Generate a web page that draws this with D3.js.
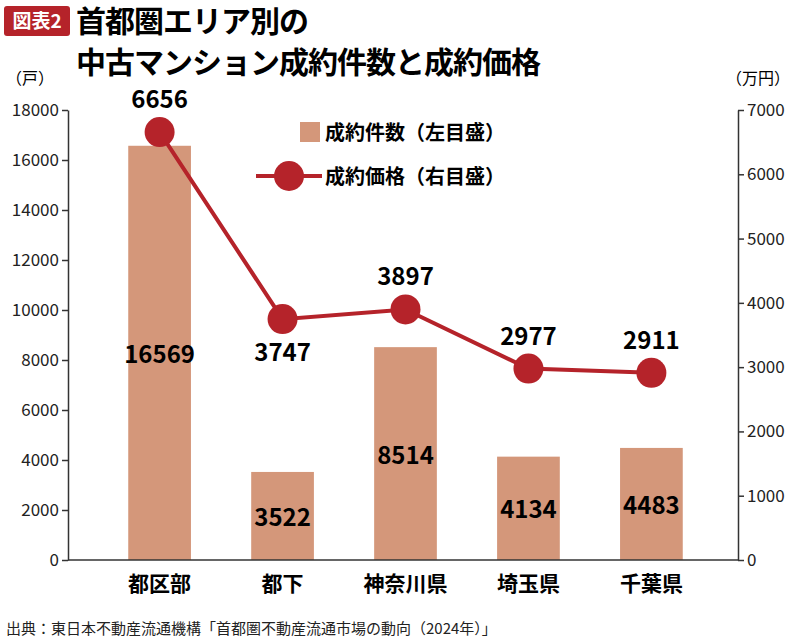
<!DOCTYPE html>
<html><head><meta charset="utf-8">
<script src="https://cdn.jsdelivr.net/npm/d3@7"></script>
<style>body{margin:0;background:#fff;font-family:"Noto Sans CJK JP",sans-serif}</style>
</head><body>
<svg id="chart" width="800" height="642"></svg>
<script>
const categories = ['都区部', '都下', '神奈川県', '埼玉県', '千葉県'];
const counts = [16569, 3522, 8514, 4134, 4483];
const prices = [6656, 3747, 3897, 2977, 2911];
const leftTicks = [0, 2000, 4000, 6000, 8000, 10000, 12000, 14000, 16000, 18000];
const rightTicks = [0, 1000, 2000, 3000, 4000, 5000, 6000, 7000];

const svg = d3.select('#chart');
const margin = {left: 68, right: 62, top: 110, bottom: 82};
const W = 800, H = 642;
const font = '"Noto Sans CJK JP", sans-serif';

const x = d3.scaleBand().domain(categories).range([68, 743]).padding(0.49);
const yL = d3.scaleLinear().domain([0, 18000]).range([H - margin.bottom, margin.top]);
const yR = d3.scaleLinear().domain([0, 7000]).range([H - margin.bottom, margin.top]);

// title
svg.append('rect').attr('x', 4).attr('y', 6).attr('width', 66).attr('height', 30).attr('rx', 3).attr('fill', '#b5232a');
svg.append('text').attr('x', 37).attr('y', 28).attr('text-anchor', 'middle').attr('fill', '#fff')
    .attr('font-size', 19).attr('font-weight', 700).attr('font-family', font).text('図表2');
svg.append('text').attr('x', 76).attr('y', 32).attr('font-size', 30).attr('font-weight', 700).attr('font-family', font)
    .attr('letter-spacing', -1).text('首都圏エリア別の');
svg.append('text').attr('x', 76).attr('y', 73).attr('font-size', 30).attr('font-weight', 700).attr('font-family', font)
    .attr('letter-spacing', -1).text('中古マンション成約件数と成約価格');

// bars
svg.append('g').selectAll('rect').data(counts).enter().append('rect')
    .attr('x', (d, i) => x(categories[i])).attr('width', x.bandwidth())
    .attr('y', d => yL(d)).attr('height', d => yL(0) - yL(d)).attr('fill', '#d4977a');
svg.append('g').selectAll('text').data(counts).enter().append('text')
    .attr('x', (d, i) => x(categories[i]) + x.bandwidth() / 2)
    .attr('y', d => (yL(d) + yL(0)) / 2 + 10)
    .attr('text-anchor', 'middle').attr('font-size', 24).attr('font-weight', 700).attr('font-family', font)
    .text(d => d);

// axes
const axisStyle = g => {
    g.selectAll('text').attr('font-size', 17).attr('font-family', font).attr('fill', '#222');
    g.selectAll('line,path').attr('stroke', '#333').attr('stroke-width', 1.5);
};
svg.append('g').attr('transform', `translate(${margin.left},0)`)
    .call(d3.axisLeft(yL).tickValues(leftTicks).tickFormat(d3.format('d')).tickSize(6).tickSizeOuter(0)).call(axisStyle);
svg.append('g').attr('transform', `translate(${W - margin.right},0)`)
    .call(d3.axisRight(yR).tickValues(rightTicks).tickFormat(d3.format('d')).tickSize(6).tickSizeOuter(0)).call(axisStyle);
const xa = svg.append('g').attr('transform', `translate(0,${yL(0)})`)
    .call(d3.axisBottom(x).tickSize(0).tickPadding(12));
xa.selectAll('text').attr('font-size', 21).attr('font-weight', 700).attr('font-family', font).attr('dy', '0.9em');
xa.select('path').attr('stroke', '#333').attr('stroke-width', 1.5).attr('d', `M${margin.left},0H${W - margin.right}`);

svg.append('text').attr('x', 6).attr('y', 84).attr('font-size', 16).attr('font-family', font).text('（戸）');
svg.append('text').attr('x', 726).attr('y', 84).attr('font-size', 16).attr('font-family', font).text('（万円）');

// line
const cx = i => x(categories[i]) + x.bandwidth() / 2;
svg.append('path').datum(prices)
    .attr('d', d3.line().x((d, i) => cx(i)).y(d => yR(d)))
    .attr('fill', 'none').attr('stroke', '#b5232a').attr('stroke-width', 4);
svg.append('g').selectAll('circle').data(prices).enter().append('circle')
    .attr('cx', (d, i) => cx(i)).attr('cy', d => yR(d)).attr('r', 15).attr('fill', '#b5232a');
svg.append('g').selectAll('text').data(prices).enter().append('text')
    .attr('x', (d, i) => cx(i))
    .attr('y', (d, i) => i === 1 ? yR(d) + 42 : yR(d) - 24)
    .attr('text-anchor', 'middle').attr('font-size', 24).attr('font-weight', 700).attr('font-family', font)
    .text(d => d);

// legend
svg.append('rect').attr('x', 300).attr('y', 122).attr('width', 20).attr('height', 20).attr('fill', '#d4977a');
svg.append('text').attr('x', 325).attr('y', 140).attr('font-size', 20).attr('font-weight', 700).attr('font-family', font).text('成約件数（左目盛）');
svg.append('line').attr('x1', 256).attr('x2', 322).attr('y1', 176).attr('y2', 176).attr('stroke', '#b5232a').attr('stroke-width', 4);
svg.append('circle').attr('cx', 289).attr('cy', 176).attr('r', 15).attr('fill', '#b5232a');
svg.append('text').attr('x', 325).attr('y', 184).attr('font-size', 20).attr('font-weight', 700).attr('font-family', font).text('成約価格（右目盛）');

// source
svg.append('text').attr('x', 6).attr('y', 634).attr('font-size', 15).attr('font-family', font).attr('fill', '#222')
    .text('出典：東日本不動産流通機構「首都圏不動産流通市場の動向（2024年）」');
</script>
</body></html>
